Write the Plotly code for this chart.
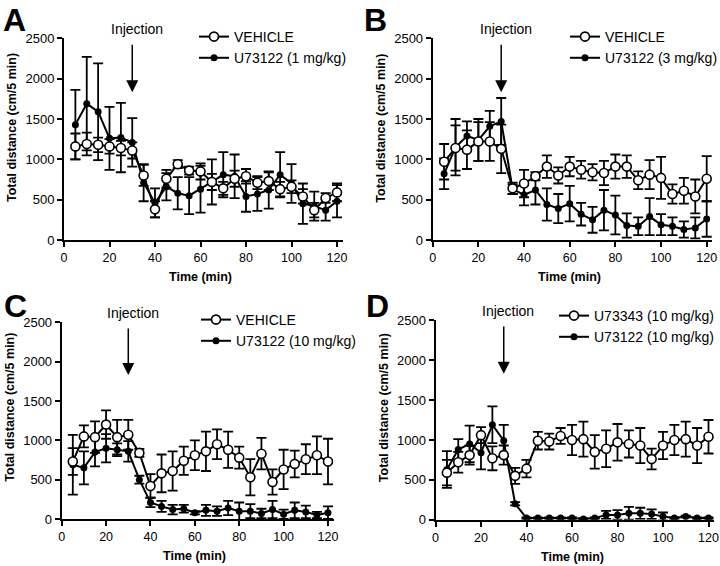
import plotly.graph_objects as go

time = [5, 10, 15, 20, 25, 30, 35, 40, 45, 50, 55, 60, 65, 70, 75, 80, 85, 90, 95, 100, 105, 110, 115, 120]

# Panel A
a_veh = [1160, 1190, 1180, 1160, 1140, 1110, 800, 380, 760, 940, 860, 850, 720, 640, 760, 790, 710, 730, 630, 660, 540, 370, 520, 590]
a_veh_err = [160, 140, 90, 90, 90, 100, 130, 100, 110, 50, 50, 100, 100, 80, 100, 90, 80, 110, 90, 80, 90, 90, 60, 110]
a_drug = [1430, 1690, 1590, 1260, 1270, 1210, 710, 460, 660, 580, 550, 630, 720, 810, 790, 540, 570, 620, 810, 700, 450, 420, 370, 480]
a_drug_err = [430, 580, 600, 390, 430, 300, 230, 180, 170, 200, 230, 290, 280, 280, 270, 190, 210, 230, 280, 240, 250, 180, 130, 200]

# Panel B
b_veh = [970, 1140, 1120, 1220, 1220, 1130, 640, 700, 790, 910, 800, 910, 870, 840, 830, 910, 910, 740, 810, 770, 570, 610, 540, 760]
b_veh_err = [220, 280, 240, 240, 240, 300, 70, 170, 50, 140, 100, 120, 110, 100, 150, 150, 140, 110, 180, 260, 120, 160, 210, 280]
b_drug = [820, 1150, 1290, 1240, 1410, 1470, 630, 560, 620, 440, 390, 450, 320, 250, 370, 310, 180, 170, 290, 190, 170, 130, 150, 260]
b_drug_err = [190, 350, 180, 260, 190, 290, 60, 130, 180, 200, 180, 220, 140, 160, 250, 240, 150, 110, 230, 130, 110, 100, 130, 220]

# Panel C
c_veh = [730, 1050, 1040, 1200, 1040, 1070, 840, 420, 580, 610, 740, 810, 860, 950, 880, 780, 530, 830, 470, 630, 700, 760, 810, 730]
c_veh_err = [170, 140, 200, 180, 220, 190, 50, 150, 240, 250, 180, 190, 250, 190, 230, 140, 230, 200, 160, 250, 170, 190, 240, 290]
c_drug = [690, 650, 850, 900, 880, 860, 500, 210, 160, 120, 130, 80, 110, 100, 140, 100, 100, 70, 120, 60, 110, 90, 50, 80]
c_drug_err = [380, 210, 180, 180, 80, 130, 50, 60, 70, 60, 50, 20, 70, 60, 90, 110, 90, 60, 110, 60, 100, 80, 40, 80]

# Panel D
d_ctrl = [590, 720, 810, 1060, 770, 810, 550, 640, 990, 980, 1050, 1000, 1010, 850, 890, 970, 950, 930, 760, 930, 1000, 1010, 930, 1040]
d_ctrl_err = [160, 130, 120, 100, 150, 120, 100, 110, 110, 100, 100, 190, 220, 210, 230, 230, 170, 220, 130, 170, 190, 220, 220, 210]
d_drug = [630, 880, 950, 840, 1190, 990, 200, 20, 20, 20, 20, 20, 10, 20, 60, 60, 80, 80, 70, 40, 20, 40, 20, 20]
d_drug_err = [230, 130, 230, 210, 230, 200, 20, 10, 10, 10, 10, 10, 10, 10, 50, 60, 80, 70, 60, 50, 10, 10, 10, 10]

panels = [
    ("A", "VEHICLE", a_veh, a_veh_err, "U73122 (1 mg/kg)", a_drug, a_drug_err),
    ("B", "VEHICLE", b_veh, b_veh_err, "U73122 (3 mg/kg)", b_drug, b_drug_err),
    ("C", "VEHICLE", c_veh, c_veh_err, "U73122 (10 mg/kg)", c_drug, c_drug_err),
    ("D", "U73343 (10 mg/kg)", d_ctrl, d_ctrl_err, "U73122 (10 mg/kg)", d_drug, d_drug_err),
]

W, H = 720, 566
# pixel geometry per panel: x of t=0, x of t=120, y of 0, y of 2500
geom = [
    (64.0, 337.0, 240.0, 38.3),
    (432.7, 706.7, 240.0, 38.3),
    (61.7, 328.0, 519.0, 322.3),
    (435.5, 708.5, 519.7, 320.3),
]
XMAX = 122.5
FONT = "Liberation Sans, Arial, sans-serif"

fig = go.Figure()
layout = dict(
    width=W, height=H, margin=dict(l=0, r=0, t=0, b=0, autoexpand=False),
    paper_bgcolor="white", plot_bgcolor="white", showlegend=True,
    font=dict(family=FONT, color="black"),
)
annotations = []

for i, (letter, n1, v1, e1, n2, v2, e2) in enumerate(panels):
    k = "" if i == 0 else str(i + 1)
    xa, ya = "x" + k, "y" + k
    lg = "legend" + k
    x0, x120, y0, y2500 = geom[i]
    xend = x0 + (x120 - x0) * XMAX / 120.0
    dx = [x0 / W, min(xend / W, 1.0)]
    dy = [1 - y0 / H, 1 - y2500 / H]
    axis_common = dict(showline=True, linecolor="black", linewidth=2, ticks="outside",
                       ticklen=5, tickwidth=2, tickcolor="black", showgrid=False,
                       zeroline=False, automargin=False, ticklabeloverflow="allow")
    layout["xaxis" + k] = dict(domain=dx, range=[0, XMAX], tickvals=[0, 20, 40, 60, 80, 100, 120],
                               anchor=ya, tickfont=dict(size=12.5, family=FONT, color="black"),
                               **axis_common)
    layout["yaxis" + k] = dict(domain=dy, range=[0, 2500], tickvals=[0, 500, 1000, 1500, 2000, 2500],
                               anchor=xa, tickfont=dict(size=13, family=FONT, color="black"),
                               **axis_common)
    # drug trace (filled) first, then control (open) on top
    fig.add_trace(go.Scatter(
        x=time, y=v2, name=n2, mode="lines+markers", xaxis=xa, yaxis=ya, legend=lg, legendrank=2,
        line=dict(color="black", width=2),
        marker=dict(symbol="circle", size=7, color="black"),
        error_y=dict(type="data", array=e2, color="black", thickness=1.8, width=5),
    ))
    fig.add_trace(go.Scatter(
        x=time, y=v1, name=n1, mode="lines+markers", xaxis=xa, yaxis=ya, legend=lg, legendrank=1,
        line=dict(color="black", width=2),
        marker=dict(symbol="circle", size=9, color="white", line=dict(color="black", width=1.6)),
        error_y=dict(type="data", array=e1, color="black", thickness=1.8, width=5),
    ))
    # legend
    legx = {0: 194, 1: 565, 2: 196, 3: 554}[i]
    legy = {0: 21, 1: 21, 2: 304, 3: 300}[i]
    layout[lg] = dict(x=legx / W, y=1 - legy / H, xanchor="left", yanchor="top",
                      bgcolor="rgba(0,0,0,0)", borderwidth=0, tracegroupgap=0,
                      font=dict(size=14, family=FONT, color="black"), itemwidth=30)
    # panel letter
    lx = {0: 1, 1: 362, 2: 2, 3: 364}[i]
    ly = {0: 0, 1: 0, 2: 286, 3: 286}[i]
    annotations.append(dict(text="<b>%s</b>" % letter, xref="paper", yref="paper",
                            x=lx / W, y=1 - ly / H, xanchor="left", yanchor="top",
                            showarrow=False, font=dict(size=32, family=FONT, color="black")))
    # injection arrow and label
    annotations.append(dict(text="", x=30, y=1830, xref=xa, yref=ya, ax=30, ay=2440,
                            axref=xa, ayref=ya, showarrow=True, arrowhead=2, arrowsize=1.6,
                            arrowwidth=1.5, arrowcolor="black"))
    annotations.append(dict(text="Injection", x=32, y=1 - (y2500 - 9) / H, xref=xa, yref="paper",
                            xanchor="center", yanchor="middle", showarrow=False,
                            font=dict(size=14, family=FONT, color="black")))
    # axis titles
    annotations.append(dict(text="<b>Time (min)</b>", x=60, xref=xa, y=1 - (y0 + 37) / H, yref="paper",
                            xanchor="center", yanchor="middle", showarrow=False,
                            font=dict(size=12.5, family=FONT, color="black")))
    annotations.append(dict(text="<b>Total distance (cm/5 min)</b>", x=(x0 - 52) / W, xref="paper",
                            y=1 - (y0 - 112) / H, yref="paper", textangle=-90,
                            xanchor="center", yanchor="middle", showarrow=False,
                            font=dict(size=12.5, family=FONT, color="black")))

layout["annotations"] = annotations
fig.update_layout(**layout)
fig.write_html("out.html", config={"displayModeBar": False},
               post_script="document.body.style.margin='0';document.body.style.overflow='hidden';")
